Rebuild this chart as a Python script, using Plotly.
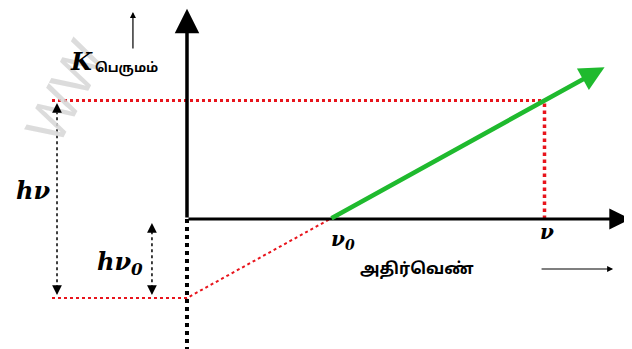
import plotly.graph_objects as go

# --- data (arbitrary units, h = 1) ---
h = 1.0
nu0 = 1.0          # threshold frequency
nu = 2.5           # incident frequency
nu_arrow = 2.92    # end of the K_max line
freq_points = [nu0, nu, nu_arrow]
kmax_points = [h * (f - nu0) for f in freq_points]
labels = {"nu0": "ν<sub>0</sub>", "nu": "ν", "hnu": "hν", "hnu0": "hν<sub>0</sub>",
          "k": "K", "k_sub": "பெருமம்", "x_title": "அதிர்வெண்"}

# axis frame (layout) - page body has an 8px margin
X0, X1 = -1.2517, 3.1119
Y0, Y1 = -1.6456, 2.6709

RED = "#e8141c"
GREEN = "#1fba2e"
serif = "DejaVu Serif"
tamil = "Noto Sans Tamil, Noto Sans, sans-serif"

fig = go.Figure()

k_nu = kmax_points[1]
# top red dashed horizontal
fig.add_trace(go.Scatter(x=[-0.944, nu], y=[k_nu, k_nu], mode="lines",
                         line=dict(color=RED, width=3, dash="dot"), hoverinfo="skip"))
# vertical red dotted at ν
fig.add_trace(go.Scatter(x=[nu, nu], y=[0, k_nu], mode="lines",
                         line=dict(color=RED, width=3.5, dash="dot"), hoverinfo="skip"))
# bottom red dotted line at -hν0 and extension to ν0
fig.add_trace(go.Scatter(x=[-0.944, 0, nu0], y=[-h * nu0, -h * nu0, 0], mode="lines",
                         line=dict(color=RED, width=2, dash="dot"), hoverinfo="skip"))
# dotted y axis below origin
fig.add_trace(go.Scatter(x=[0, 0], y=[0, Y0], mode="lines",
                         line=dict(color="black", width=4, dash="dot"), hoverinfo="skip"))
# black dotted measurement lines
xa, xb = -0.909, -0.245
fig.add_trace(go.Scatter(x=[xa, xa], y=[k_nu - 0.06, -h * nu0 + 0.06], mode="lines",
                         line=dict(color="black", width=1.5, dash="dot"), hoverinfo="skip"))
fig.add_trace(go.Scatter(x=[xb, xb], y=[-0.08, -h * nu0 + 0.06], mode="lines",
                         line=dict(color="black", width=1.5, dash="dot"), hoverinfo="skip"))

ann = []
# watermark
ann.append(dict(x=-0.85, y=1.62, xref="x", yref="y", text="WW", showarrow=False,
                textangle=-62, font=dict(size=56, color="rgba(214,214,214,0.85)", family="Liberation Sans")))
# y axis
ann.append(dict(x=0, y=2.66, ax=0, ay=0, xref="x", yref="y", axref="x", ayref="y",
                showarrow=True, arrowhead=2, arrowsize=1.4, arrowwidth=3.5, arrowcolor="black", text=""))
# x axis
ann.append(dict(x=3.10, y=0, ax=0, ay=0, xref="x", yref="y", axref="x", ayref="y",
                showarrow=True, arrowhead=2, arrowsize=1.4, arrowwidth=3, arrowcolor="black", text=""))
# green K_max line
ann.append(dict(x=freq_points[2], y=kmax_points[2], ax=freq_points[0], ay=kmax_points[0],
                xref="x", yref="y", axref="x", ayref="y",
                showarrow=True, arrowhead=2, arrowsize=1.1, arrowwidth=4.5, arrowcolor=GREEN, text=""))
# arrowheads of measurement lines (pixel offsets for tails)
for (x, y, ay) in [(xa, 1.468, 8), (xa, -0.962, -8), (xb, -0.05, 8), (xb, -0.962, -8)]:
    ann.append(dict(x=x, y=y, ax=0, ay=ay, xref="x", yref="y", showarrow=True,
                    arrowhead=2, arrowsize=1.3, arrowwidth=1.5, arrowcolor="black", text=""))
# small arrow above K
ann.append(dict(x=-0.378, y=2.62, ax=-0.378, ay=2.14, xref="x", yref="y", axref="x", ayref="y",
                showarrow=True, arrowhead=2, arrowsize=1, arrowwidth=1.2, arrowcolor="black", text=""))
# arrow next to x title
ann.append(dict(x=2.98, y=-0.633, ax=2.469, ay=-0.633, xref="x", yref="y", axref="x", ayref="y",
                showarrow=True, arrowhead=2, arrowsize=1, arrowwidth=1.2, arrowcolor="black", text=""))

# text labels
ann.append(dict(x=-1.08, y=0.36, xref="x", yref="y", text="<b><i>" + labels["hnu"] + "</i></b>",
                showarrow=False, font=dict(size=24, color="black", family=serif)))
ann.append(dict(x=-0.47, y=-0.56, xref="x", yref="y", text="<b><i>" + labels["hnu0"] + "</i></b>",
                showarrow=False, font=dict(size=24, color="black", family=serif)))
ann.append(dict(x=-0.74, y=1.99, xref="x", yref="y", text="<b><i>" + labels["k"] + "</i></b>",
                showarrow=False, font=dict(size=24, color="black", family=serif)))
ann.append(dict(x=-0.42, y=1.90, xref="x", yref="y", text="<b>" + labels["k_sub"] + "</b>",
                showarrow=False, font=dict(size=13, color="black", family=tamil)))
ann.append(dict(x=nu0 + 0.09, y=-0.27, xref="x", yref="y", text="<b><i>" + labels["nu0"] + "</i></b>",
                showarrow=False, font=dict(size=20, color="black", family=serif)))
ann.append(dict(x=nu + 0.02, y=-0.16, xref="x", yref="y", text="<b><i>" + labels["nu"] + "</i></b>",
                showarrow=False, font=dict(size=20, color="black", family=serif)))
ann.append(dict(x=1.61, y=-0.64, xref="x", yref="y", text="<b>" + labels["x_title"] + "</b>",
                showarrow=False, font=dict(size=16, color="black", family=tamil)))

fig.update_layout(
    width=624, height=341,
    margin=dict(l=0, r=0, t=0, b=0),
    paper_bgcolor="white", plot_bgcolor="white",
    showlegend=False,
    xaxis=dict(range=[X0, X1], visible=False, fixedrange=True),
    yaxis=dict(range=[Y0, Y1], visible=False, fixedrange=True),
    annotations=ann,
)

fig.write_html("out.html")
